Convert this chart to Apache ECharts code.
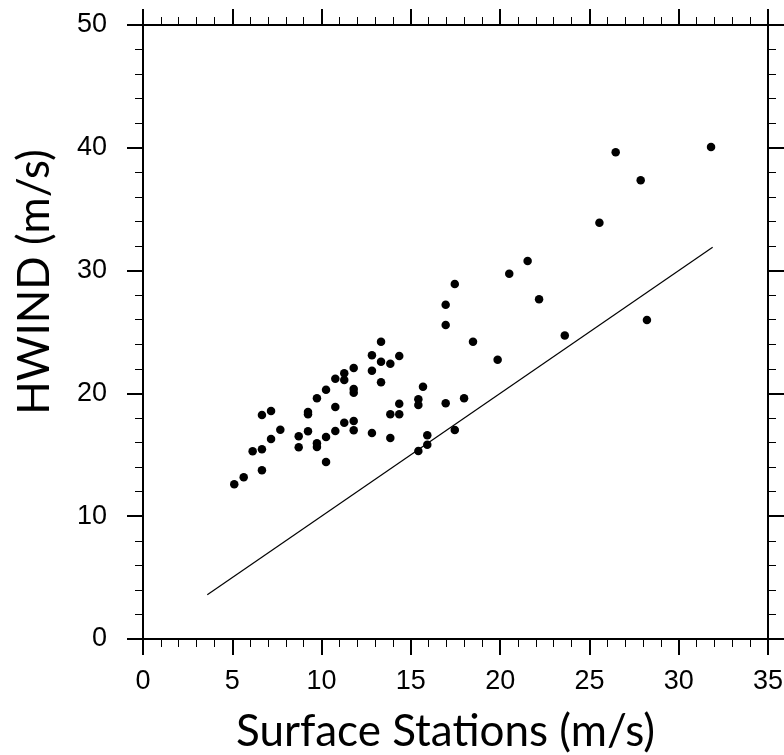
<!DOCTYPE html>
<html><head><meta charset="utf-8">
<script src="https://cdn.jsdelivr.net/npm/echarts@6/dist/echarts.min.js"></script>
<style>html,body{margin:0;padding:0;background:#fff}#chart{width:784px;height:755px}</style>
</head><body><div id="chart"></div>
<script>
// Surface station wind speed (m/s) for each matched observation
const surfaceStations = [
  13.33, 12.82, 13.33, 13.85, 14.35, 11.80, 11.27, 11.27, 10.77, 12.82,
  13.33, 10.25, 9.74, 11.80, 11.80, 10.77, 9.24, 9.24, 7.17, 6.66,
  7.69, 8.72, 9.24, 10.77, 11.27, 11.80, 11.80, 12.82, 13.85, 14.35,
  14.35, 13.85, 15.42, 15.42, 7.17, 6.66, 6.14, 8.72, 9.74, 9.74,
  10.25, 10.25, 6.66, 5.64, 5.11, 15.42,
  17.46, 16.95, 16.95, 22.18, 23.62, 18.48, 19.86, 15.68, 16.95, 17.98,
  17.46, 15.92, 15.92,
  26.47, 27.87, 25.56, 21.54, 20.51, 28.22, 31.81
];
// HWIND wind speed (m/s) for the same observations
const hwind = [
  24.21, 23.10, 22.58, 22.42, 23.05, 22.07, 21.64, 21.09, 21.20, 21.85,
  20.90, 20.30, 19.60, 20.36, 20.06, 18.89, 18.49, 18.30, 18.57, 18.24,
  17.04, 16.51, 16.91, 16.94, 17.61, 17.75, 17.00, 16.78, 18.30, 18.30,
  19.16, 16.37, 19.52, 19.06, 16.29, 15.45, 15.28, 15.61, 15.94, 15.64,
  16.45, 14.41, 13.74, 13.17, 12.60, 15.31,
  28.91, 27.22, 25.57, 27.66, 24.71, 24.21, 22.74, 20.55, 19.19, 19.60,
  17.02, 16.59, 15.82,
  39.63, 37.35, 33.90, 30.78, 29.75, 25.98, 40.07
];
// 1:1 reference line end points
const refLineX = [3.6, 31.9];
const refLineY = [3.6, 31.9];
const xTitle = 'Surface Stations (m/s)';
const yTitle = 'HWIND (m/s)';

const points = surfaceStations.map((v, i) => [v, hwind[i]]);
const linePts = refLineX.map((v, i) => [v, refLineY[i]]);

const black = '#000';
const labelFont = 'Liberation Sans';
const titleFont = 'Lato';

function baseAxis(extra) {
  return Object.assign({
    type: 'value',
    axisLine: { show: true, onZero: false, lineStyle: { color: black, width: 2 } },
    axisTick: { show: true, inside: false, length: 16, lineStyle: { color: black, width: 2 } },
    minorTick: { show: true, splitNumber: 5, length: 8, lineStyle: { color: black, width: 1 } },
    splitLine: { show: false },
    minorSplitLine: { show: false }
  }, extra);
}

const chart = echarts.init(document.getElementById('chart'), null, { renderer: 'canvas' });
chart.setOption({
  animation: false,
  backgroundColor: '#fff',
  grid: { left: 143, top: 25, right: 16, bottom: 116, containLabel: false, outerBoundsMode: 'none' },
  xAxis: [
    baseAxis({
      position: 'bottom', min: 0, max: 35, interval: 5,
      axisLabel: { color: black, fontFamily: labelFont, fontSize: 27, margin: 29 },
      name: xTitle, nameLocation: 'middle', nameGap: 71,
      nameTextStyle: { color: black, fontFamily: titleFont, fontSize: 44, padding: [0, 20, 0, 0] }
    }),
    baseAxis({
      position: 'top', min: 0, max: 35, interval: 5,
      axisLabel: { show: false }
    })
  ],
  yAxis: [
    baseAxis({
      position: 'left', min: 0, max: 50, interval: 10,
      axisLabel: { color: black, fontFamily: labelFont, fontSize: 27, margin: 36 },
      name: yTitle, nameLocation: 'middle', nameGap: 86, nameRotate: 90,
      nameTextStyle: { color: black, fontFamily: titleFont, fontSize: 44, padding: [0, 0, 0, 100] }
    }),
    baseAxis({
      position: 'right', min: 0, max: 50, interval: 10,
      axisLabel: { show: false }
    })
  ],
  series: [
    {
      type: 'line', data: linePts, xAxisIndex: 0, yAxisIndex: 0,
      symbol: 'none', silent: true,
      lineStyle: { color: black, width: 1.2 }
    },
    {
      type: 'scatter', data: points, xAxisIndex: 0, yAxisIndex: 0,
      symbol: 'circle', symbolSize: 8.5,
      itemStyle: { color: black, opacity: 1 }
    }
  ]
});
</script>
</body></html>
